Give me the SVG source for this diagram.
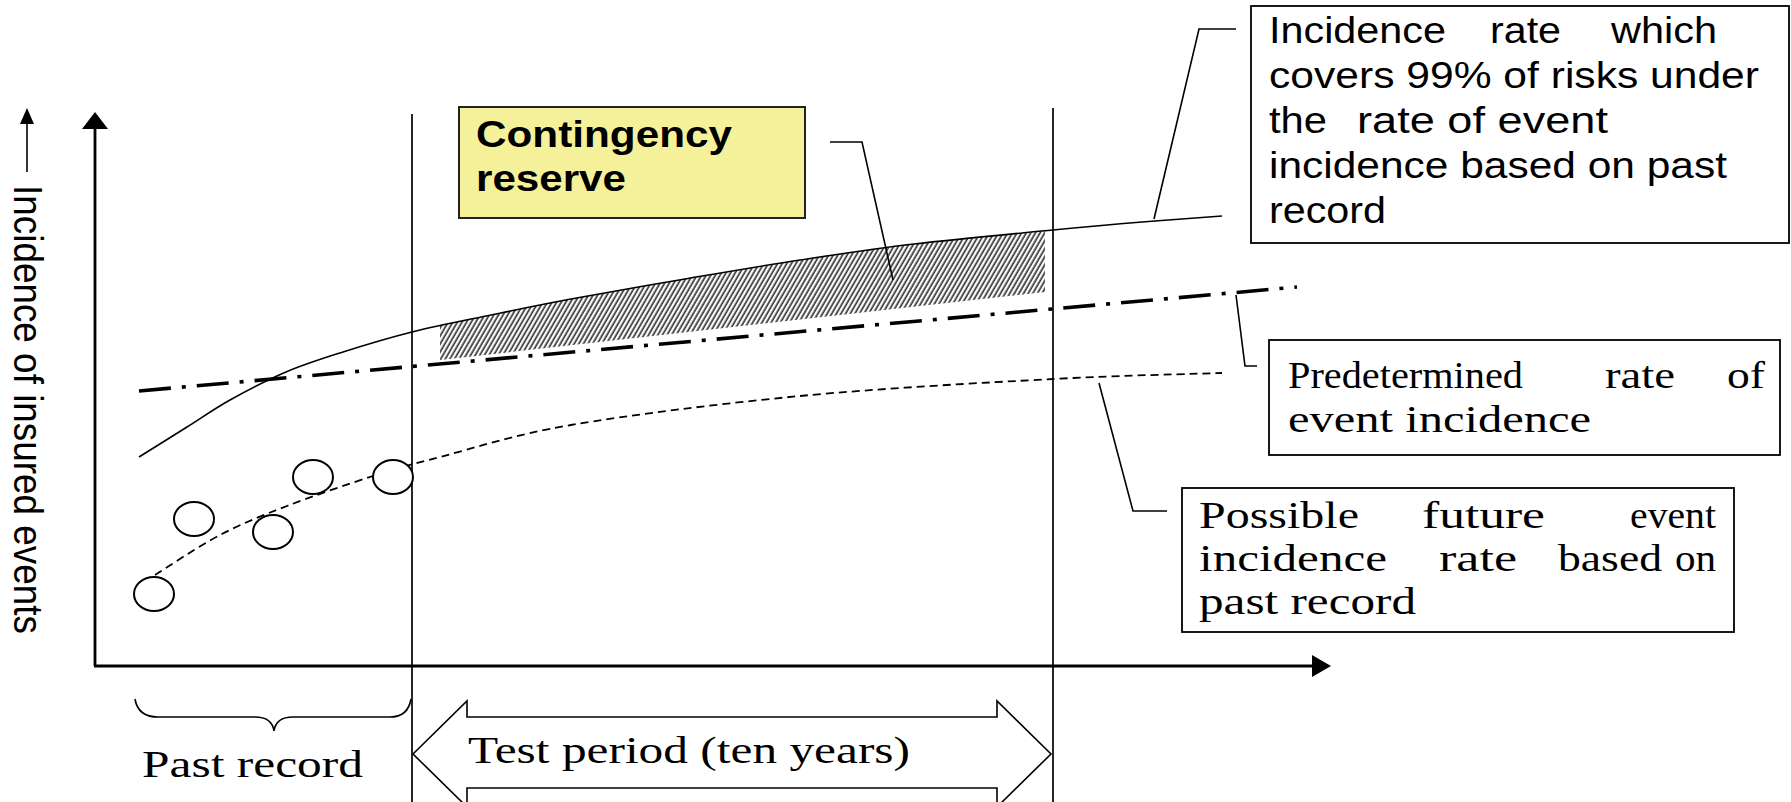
<svg xmlns="http://www.w3.org/2000/svg" width="1791" height="802" viewBox="0 0 1791 802">
<style>
.sans{font-family:"Liberation Sans",Arial,sans-serif;font-size:36px;fill:#000}
.bold{font-weight:bold}
.serif{font-family:"Liberation Serif","Times New Roman",serif;font-size:37px;fill:#000}
.box{fill:#fff;stroke:#000;stroke-width:1.8}
.ybox{fill:#f5f19b;stroke:#222;stroke-width:2}
.thin{fill:none;stroke:#000;stroke-width:1.6}
.axis{fill:none;stroke:#000;stroke-width:2.8}
.vline{fill:none;stroke:#000;stroke-width:1.7}
.dot{fill:#fff;stroke:#000;stroke-width:2}
</style>
<defs>
<pattern id="hatch" width="4" height="10" patternUnits="userSpaceOnUse" patternTransform="rotate(30)">
<line x1="1.2" y1="0" x2="1.2" y2="10" stroke="#333" stroke-width="1.7"/>
</pattern>
</defs>
<rect width="1791" height="802" fill="#fff"/>

<g id="hatch-area">
<path d="M440,325 L491,315 L571,299 L685,279 L800,260 L914,244 L1045,231 L1045,292 L440,360 Z" fill="url(#hatch)"/>
</g>

<g id="axes">
<line class="axis" x1="95" y1="666" x2="95" y2="126"/>
<polygon points="95,112 82,129 108,129" fill="#000"/>
<line class="axis" x1="94" y1="666" x2="1314" y2="666"/>
<polygon points="1331,666 1312,655 1312,677" fill="#000"/>
<line class="vline" x1="412" y1="114" x2="412" y2="802"/>
<line class="vline" x1="1053" y1="108" x2="1053" y2="802"/>
</g>

<g id="y-label">
<line x1="27" y1="172" x2="27" y2="120" stroke="#000" stroke-width="1.6"/>
<polygon points="27,108 20,124 34,124" fill="#000"/>
<text class="sans" transform="translate(14,185) scale(1.15,1) rotate(90)" textLength="449" lengthAdjust="spacingAndGlyphs">Incidence of insured events</text>
</g>

<g id="connectors">
<path id="curve-99" class="thin" d="M139,457 C147,452 171.8,436.5 187,427 C202.2,417.5 213.5,409.2 230,400 C246.5,390.8 267.2,380 286,372 C304.8,364 322,358.7 343,352 C364,345.3 387.3,338.2 412,332 C436.7,325.8 464.5,320.5 491,315 C517.5,309.5 538.7,305 571,299 C603.3,293 646.8,285.5 685,279 C723.2,272.5 761.8,265.8 800,260 C838.2,254.2 871.8,249 914,244 C956.2,239 1015,233.7 1053,230 C1091,226.3 1113.8,224.3 1142,222 C1170.2,219.7 1208.7,217 1222,216"/>
<path id="curve-predetermined" d="M139,391 L1297,287" fill="none" stroke="#000" stroke-width="3.6" stroke-dasharray="32 11 4 11"/>
<path id="curve-possible" d="M155,575 C165.8,568.3 198,546.5 220,535 C242,523.5 261.5,515.8 287,506 C312.5,496.2 347.5,484.2 373,476 C398.5,467.8 407,465.5 440,457 C473,448.5 511,435.2 571,425 C631,414.8 719.7,403.7 800,396 C880.3,388.3 982.7,382.8 1053,379 C1123.3,375.2 1193.8,374 1222,373" fill="none" stroke="#000" stroke-width="1.8" stroke-dasharray="8 5"/>
<polyline class="thin" points="830,142 862,142 893,280"/>
<polyline class="thin" points="1236,29 1199,29 1154,219"/>
<polyline class="thin" points="1236,295 1245,366 1257,366"/>
<polyline class="thin" points="1099,383 1133,511 1167,511"/>
</g>

<g id="past-points">
<ellipse class="dot" cx="154" cy="594" rx="20" ry="17"/>
<ellipse class="dot" cx="194" cy="519" rx="20" ry="17"/>
<ellipse class="dot" cx="273" cy="532" rx="20" ry="17"/>
<ellipse class="dot" cx="313" cy="477" rx="20" ry="17"/>
<ellipse class="dot" cx="393" cy="477" rx="20" ry="17"/>
</g>

<g id="node-contingency">
<rect class="ybox" x="459" y="107" width="346" height="111"/>
<text class="sans bold" x="476" y="147" textLength="256" lengthAdjust="spacingAndGlyphs">Contingency</text>
<text class="sans bold" x="476" y="191" textLength="150" lengthAdjust="spacingAndGlyphs">reserve</text>
</g>

<g id="node-99">
<rect class="box" x="1251" y="6" width="538" height="237"/>
<text class="sans" x="1269" y="43" textLength="177" lengthAdjust="spacingAndGlyphs">Incidence</text>
<text class="sans" x="1490" y="43" textLength="71" lengthAdjust="spacingAndGlyphs">rate</text>
<text class="sans" x="1611" y="43" textLength="106" lengthAdjust="spacingAndGlyphs">which</text>
<text class="sans" x="1269" y="88" textLength="490" lengthAdjust="spacingAndGlyphs">covers 99% of risks under</text>
<text class="sans" x="1269" y="133" textLength="58" lengthAdjust="spacingAndGlyphs">the</text>
<text class="sans" x="1357" y="133" textLength="251" lengthAdjust="spacingAndGlyphs">rate of event</text>
<text class="sans" x="1269" y="178" textLength="458" lengthAdjust="spacingAndGlyphs">incidence based on past</text>
<text class="sans" x="1269" y="223" textLength="117" lengthAdjust="spacingAndGlyphs">record</text>
</g>

<g id="node-predetermined">
<rect class="box" x="1269" y="340" width="511" height="115"/>
<text class="serif" x="1288" y="388" textLength="235" lengthAdjust="spacingAndGlyphs">Predetermined</text>
<text class="serif" x="1605" y="388" textLength="70" lengthAdjust="spacingAndGlyphs">rate</text>
<text class="serif" x="1727" y="388" textLength="38" lengthAdjust="spacingAndGlyphs">of</text>
<text class="serif" x="1288" y="432" textLength="303" lengthAdjust="spacingAndGlyphs">event incidence</text>
</g>

<g id="node-possible">
<rect class="box" x="1182" y="488" width="552" height="144"/>
<text class="serif" x="1199" y="528" textLength="160" lengthAdjust="spacingAndGlyphs">Possible</text>
<text class="serif" x="1422" y="528" textLength="123" lengthAdjust="spacingAndGlyphs">future</text>
<text class="serif" x="1630" y="528" textLength="86" lengthAdjust="spacingAndGlyphs">event</text>
<text class="serif" x="1199" y="571" textLength="188" lengthAdjust="spacingAndGlyphs">incidence</text>
<text class="serif" x="1439" y="571" textLength="78" lengthAdjust="spacingAndGlyphs">rate</text>
<text class="serif" x="1558" y="571" textLength="104" lengthAdjust="spacingAndGlyphs">based</text>
<text class="serif" x="1675" y="571" textLength="41" lengthAdjust="spacingAndGlyphs">on</text>
<text class="serif" x="1199" y="614" textLength="217" lengthAdjust="spacingAndGlyphs">past record</text>
</g>

<g id="node-past-record">
<path class="thin" d="M135,699 Q138,717 158,717 L255,717 Q272,717 274,731 Q276,717 293,717 L390,717 Q408,717 411,699"/>
<text class="serif" x="142" y="777" textLength="221" lengthAdjust="spacingAndGlyphs">Past record</text>
</g>

<g id="node-test-period">
<polygon class="thin" points="413,754 467,701 467,717 997,717 997,701 1051,754 997,807 997,788 467,788 467,807"/>
<text class="serif" x="468" y="763" textLength="442" lengthAdjust="spacingAndGlyphs">Test period (ten years)</text>
</g>
</svg>
